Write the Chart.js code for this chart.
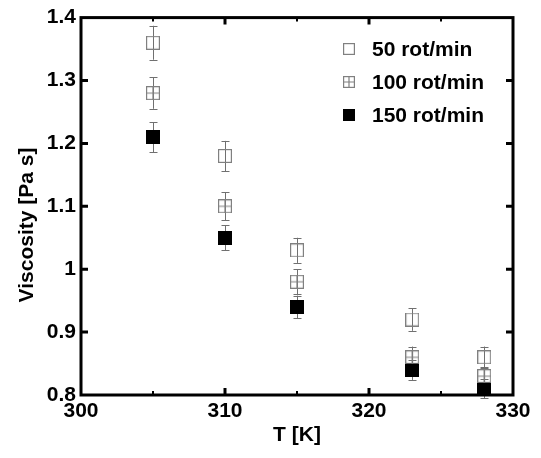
<!DOCTYPE html>
<html>
<head>
<meta charset="utf-8">
<script src="https://cdn.jsdelivr.net/npm/chart.js@4"></script>
<style>
  body { margin: 0; background: #fff; }
  #wrap { width: 541px; height: 458px; }
</style>
</head>
<body>
<div id="wrap"><canvas id="viscChart" width="541" height="458"></canvas></div>
<script>
// data
const temps = [305, 310, 315, 323, 328];
const visc50 = [1.36, 1.18, 1.03, 0.92, 0.86];
const visc100 = [1.28, 1.10, 0.98, 0.86, 0.83];
const visc150 = [1.21, 1.05, 0.94, 0.84, 0.81];
const err50 = [0.027, 0.024, 0.02, 0.018, 0.017];
const err100 = [0.025, 0.022, 0.02, 0.017, 0.015];
const err150 = [0.024, 0.02, 0.018, 0.016, 0.015];
const seriesLabels = ["50 rot/min", "100 rot/min", "150 rot/min"];
const xTicks = [300, 310, 320, 330];
const yTicks = [0.8, 0.9, 1.0, 1.1, 1.2, 1.3, 1.4];

const FONT = "'Liberation Sans', Arial, sans-serif";
const GREY = "#808080";

// marker images
function makeMarker(kind, size) {
  const c = document.createElement("canvas");
  c.width = size;
  c.height = size;
  const g = c.getContext("2d");
  if (kind === "filled") {
    g.fillStyle = "#000";
    g.fillRect(0, 0, size, size);
  } else {
    g.strokeStyle = GREY;
    g.lineWidth = 1.2;
    g.strokeRect(0.6, 0.6, size - 1.2, size - 1.2);
    if (kind === "cross") {
      g.beginPath();
      g.moveTo(size / 2, 0);
      g.lineTo(size / 2, size);
      g.moveTo(0, size / 2);
      g.lineTo(size, size / 2);
      g.stroke();
    }
  }
  return c;
}

const kinds = ["open", "cross", "filled"];
const markers = kinds.map((k) => makeMarker(k, 14));
const legendMarkers = kinds.map((k) => makeMarker(k, 12));
const errors = [err50, err100, err150];

const toPoints = (vals) => temps.map((t, i) => ({ x: t, y: vals[i] }));

const framePlugin = {
  id: "frame",
  beforeDatasetsDraw(chart) {
    const ctx = chart.ctx;
    const xs = chart.scales.x;
    const ys = chart.scales.y;
    ctx.save();
    ctx.strokeStyle = "#707070";
    ctx.lineWidth = 1;
    chart.data.datasets.forEach((ds, d) => {
      ds.data.forEach((p, i) => {
        const e = errors[d][i];
        const x = Math.round(xs.getPixelForValue(p.x)) + 0.5;
        const y1 = ys.getPixelForValue(p.y + e);
        const y2 = ys.getPixelForValue(p.y - e);
        ctx.beginPath();
        ctx.moveTo(x, y1);
        ctx.lineTo(x, y2);
        ctx.moveTo(x - 4, Math.round(y1) + 0.5);
        ctx.lineTo(x + 4, Math.round(y1) + 0.5);
        ctx.moveTo(x - 4, Math.round(y2) + 0.5);
        ctx.lineTo(x + 4, Math.round(y2) + 0.5);
        ctx.stroke();
      });
    });
    ctx.restore();
  },
  afterDraw(chart) {
    const ctx = chart.ctx;
    const a = chart.chartArea;
    const xs = chart.scales.x;
    const ys = chart.scales.y;
    ctx.save();
    ctx.strokeStyle = "#000";
    // frame
    ctx.lineWidth = 3;
    ctx.strokeRect(a.left, a.top, a.right - a.left, a.bottom - a.top);
    // x ticks, inward top and bottom
    for (let t = 305; t < 330; t += 5) {
      const major = t % 10 === 0;
      const x = xs.getPixelForValue(t);
      const len = major ? 7 : 4;
      ctx.lineWidth = major ? 3 : 2;
      ctx.beginPath();
      ctx.moveTo(x, a.bottom);
      ctx.lineTo(x, a.bottom - len);
      ctx.moveTo(x, a.top);
      ctx.lineTo(x, a.top + len);
      ctx.stroke();
    }
    // y ticks, inward left and right
    ctx.lineWidth = 3;
    yTicks.slice(1, -1).forEach((v) => {
      const y = ys.getPixelForValue(v);
      ctx.beginPath();
      ctx.moveTo(a.left, y);
      ctx.lineTo(a.left + 7, y);
      ctx.moveTo(a.right, y);
      ctx.lineTo(a.right - 7, y);
      ctx.stroke();
    });
    // legend
    ctx.fillStyle = "#000";
    ctx.font = "bold 21px " + FONT;
    ctx.textBaseline = "middle";
    ctx.textAlign = "left";
    seriesLabels.forEach((lab, i) => {
      const y = 49 + i * 33;
      ctx.drawImage(legendMarkers[i], 343, y - 6);
      ctx.fillText(lab, 372, y + 1);
    });
    // y axis title
    ctx.translate(27, 225);
    ctx.rotate(-Math.PI / 2);
    ctx.textAlign = "center";
    ctx.fillText("Viscosity [Pa s]", 0, 0);
    ctx.restore();
  },
};

new Chart(document.getElementById("viscChart"), {
  type: "scatter",
  data: {
    datasets: seriesLabels.map((lab, i) => ({
      label: lab,
      data: toPoints([visc50, visc100, visc150][i]),
      pointStyle: markers[i],
      pointRadius: 7,
    })),
  },
  options: {
    responsive: false,
    animation: false,
    events: [],
    layout: { padding: { top: 17, right: 28, left: 0, bottom: 0 } },
    plugins: {
      legend: { display: false },
      tooltip: { enabled: false },
    },
    scales: {
      x: {
        type: "linear",
        min: 300,
        max: 330,
        afterFit: (s) => { s.height = 63; },
        afterBuildTicks: (s) => { s.ticks = xTicks.map((v) => ({ value: v })); },
        grid: { display: false, drawTicks: false },
        border: { display: false },
        ticks: {
          color: "#000",
          padding: 4,
          maxRotation: 0,
          font: { family: FONT, size: 21, weight: "bold" },
        },
        title: {
          display: true,
          text: "T [K]",
          color: "#000",
          padding: { top: 0, bottom: 10 },
          font: { family: FONT, size: 21, weight: "bold" },
        },
      },
      y: {
        type: "linear",
        min: 0.8,
        max: 1.4,
        afterFit: (s) => { s.width = 81; },
        afterBuildTicks: (s) => { s.ticks = yTicks.map((v) => ({ value: v })); },
        grid: { display: false, drawTicks: false },
        border: { display: false },
        ticks: {
          color: "#000",
          padding: 5,
          font: { family: FONT, size: 21, weight: "bold" },
          callback: (v) => String(+v.toFixed(1)),
        },
      },
    },
  },
  plugins: [framePlugin],
});
</script>
</body>
</html>
